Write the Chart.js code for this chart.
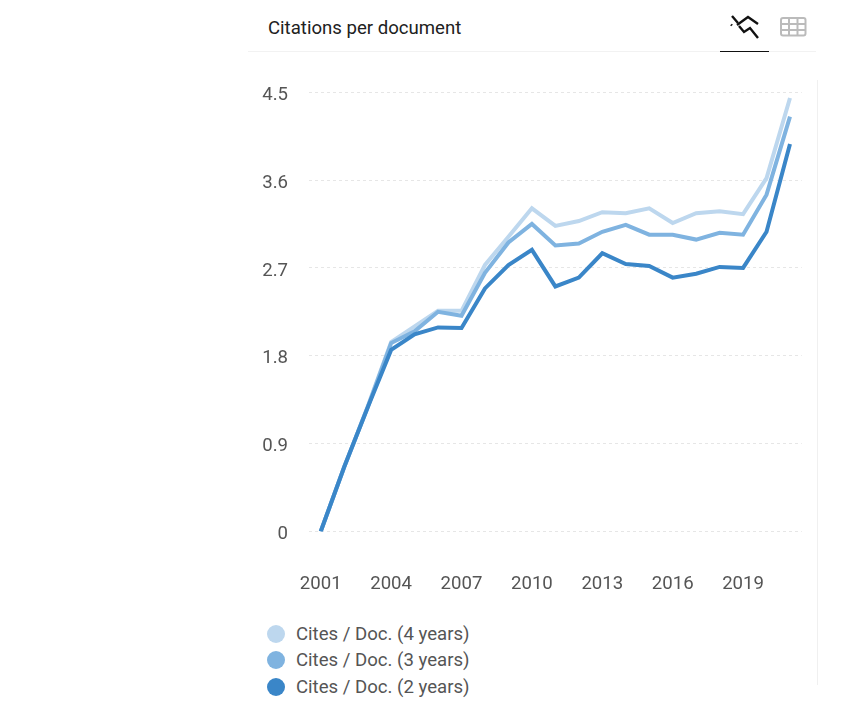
<!DOCTYPE html>
<html>
<head>
<meta charset="utf-8">
<title>Citations per document</title>
<script src="https://cdn.jsdelivr.net/npm/chart.js@4"></script>
<style>
  html, body { margin: 0; background: #fff; font-family: Roboto, sans-serif; }
  #page { position: relative; width: 850px; height: 709px; overflow: hidden; }
  #title { position: absolute; left: 268px; top: 17px; font-size: 18.6px; line-height: 22px; color: #212121; }
  #headerRule { position: absolute; left: 248px; top: 51px; width: 568px; height: 1px; background: #f2f2f2; }
  #tabRule { position: absolute; left: 720px; top: 51px; width: 49px; height: 1px; background: #111; }
  #sideRule { position: absolute; left: 817px; top: 80px; width: 1px; height: 605px; background: #f0f0f0; }
  #icons { position: absolute; left: 725px; top: 10px; }
  #chartWrap { position: absolute; left: 250px; top: 60px; }
  #legend { position: absolute; left: 267px; top: 621px; font-size: 18.6px; color: #555; }
  .item { height: 26.4px; line-height: 26.4px; white-space: nowrap; }
  .dot { display: inline-block; width: 18px; height: 18px; border-radius: 50%; margin-right: 11px; vertical-align: -3px; }
</style>
</head>
<body>
<div id="page">
  <div id="title">Citations per document</div>
  <svg id="icons" width="90" height="32" viewBox="0 0 90 32">
    <g fill="none" stroke="#111" stroke-width="2.4">
      <path d="M7 6 L13 13 M6 14.5 L7 15.5"/>
      <path d="M12 15 L23 7 L33 14"/>
      <path d="M14 16 L19 22 L25 18 L33 28"/>
    </g>
    <g fill="none" stroke="#bbb" stroke-width="2">
      <rect x="56" y="8" width="24.5" height="17.5" rx="2"/>
      <path d="M56 14 H80.5 M56 20 H80.5 M64 8 V25.5 M72.5 8 V25.5"/>
    </g>
  </svg>
  <div id="headerRule"></div>
  <div id="tabRule"></div>
  <div id="sideRule"></div>
  <div id="chartWrap"><canvas id="citesChart" width="574" height="540"></canvas></div>
  <div id="legend"></div>
</div>
<script>
// 연도 / 값은 그림에서 읽은 추정치
const years = ["2001","2002","2003","2004","2005","2006","2007","2008","2009","2010","2011","2012","2013","2014","2015","2016","2017","2018","2019","2020","2021"];
const cites4 = [0, 0.66, 1.28, 1.94, 2.1, 2.26, 2.26, 2.73, 3.02, 3.31, 3.13, 3.18, 3.27, 3.26, 3.31, 3.16, 3.26, 3.28, 3.25, 3.62, 4.44];
const cites3 = [0, 0.66, 1.27, 1.93, 2.05, 2.25, 2.21, 2.65, 2.96, 3.15, 2.93, 2.95, 3.07, 3.14, 3.04, 3.04, 2.99, 3.06, 3.04, 3.45, 4.25];
const cites2 = [0, 0.66, 1.27, 1.86, 2.02, 2.09, 2.085, 2.49, 2.73, 2.885, 2.51, 2.6, 2.85, 2.74, 2.72, 2.6, 2.64, 2.71, 2.7, 3.07, 3.97];
const seriesNames = ["Cites / Doc. (4 years)", "Cites / Doc. (3 years)", "Cites / Doc. (2 years)"];
const seriesColors = ["#bdd7ee", "#7fb3e0", "#3a86c8"];

const tickFont = { family: "Roboto", size: 18.6 };

const chart = new Chart(document.getElementById("citesChart").getContext("2d"), {
  type: "line",
  data: {
    labels: years,
    datasets: [cites4, cites3, cites2].map((data, i) => ({
      label: seriesNames[i],
      data,
      borderColor: seriesColors[i],
      backgroundColor: seriesColors[i],
      borderWidth: 4,
      pointRadius: 0,
      tension: 0,
      order: 3 - i
    }))
  },
  options: {
    responsive: false,
    animation: false,
    layout: { padding: { top: 32, left: 0, right: 0, bottom: 0 } },
    plugins: {
      legend: { display: false },
      tooltip: { enabled: false }
    },
    scales: {
      x: {
        offset: true,
        grid: { display: false },
        border: { display: false },
        afterFit: (scale) => { scale.height = 68.5; },
        ticks: {
          autoSkip: false,
          maxRotation: 0,
          padding: 34,
          color: "#555",
          font: tickFont,
          callback: (value, i) => (i % 3 === 0 && i < 20 ? years[i] : "")
        }
      },
      y: {
        min: 0,
        max: 4.5,
        grid: { color: "#e6e6e6", lineWidth: 1, drawTicks: false },
        border: { display: false, dash: [3, 3] },
        afterFit: (scale) => { scale.width = 59; },
        ticks: { stepSize: 0.9, padding: 21, labelOffset: 3, color: "#555", font: tickFont }
      }
    }
  }
});

// 범례는 세로 목록이라 직접 그림
document.getElementById("legend").innerHTML = chart.data.datasets.map((d) =>
  `<div class="item"><span class="dot" style="background:${d.borderColor}"></span>${d.label}</div>`
).join("");
</script>
</body>
</html>
